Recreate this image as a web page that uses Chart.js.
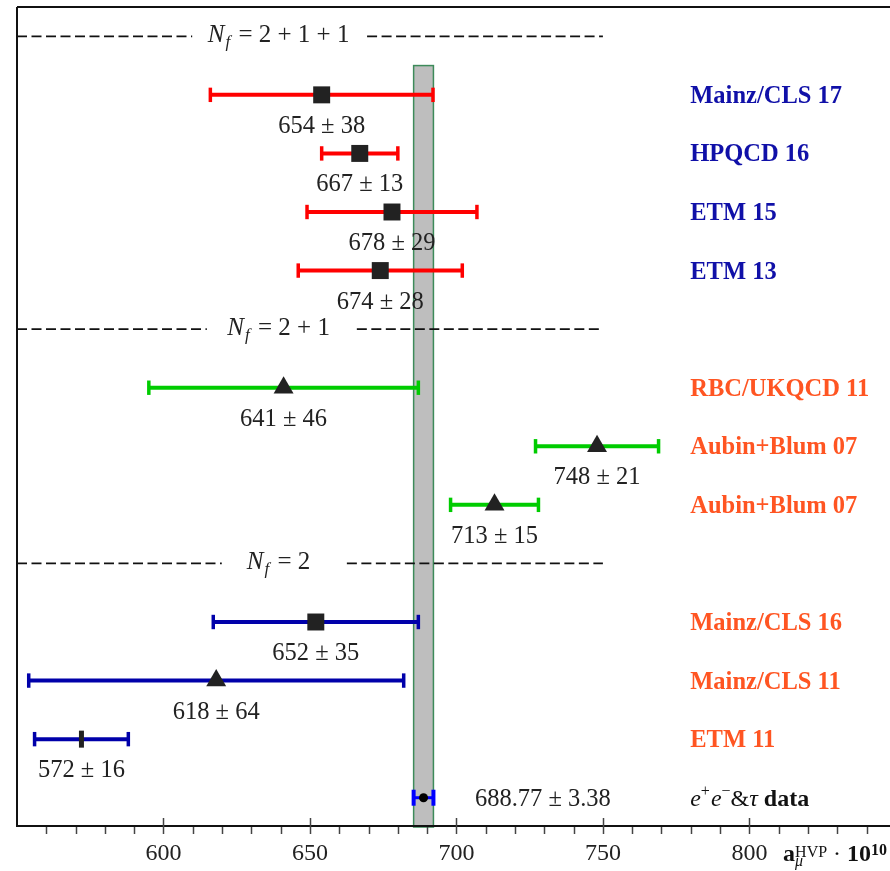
<!DOCTYPE html>
<html>
<head>
<meta charset="utf-8">
<script src="https://cdn.jsdelivr.net/npm/chart.js@4.4.1/dist/chart.umd.min.js"></script>
<style>
  html, body { margin: 0; padding: 0; background: #fff; }
  canvas { display: block; }
</style>
</head>
<body>
<canvas id="hvpChart" width="890" height="871"></canvas>
<script>
// ===== a_mu HVP comparison: lattice results vs dispersive value =====

// Lattice results, top to bottom
const labels = ['Mainz/CLS 17', 'HPQCD 16', 'ETM 15', 'ETM 13', 'RBC/UKQCD 11', 'Aubin+Blum 07', 'Aubin+Blum 07', 'Mainz/CLS 16', 'Mainz/CLS 11', 'ETM 11'];
const centralValues = [654, 667, 678, 674, 641, 748, 713, 652, 618, 572];
const errors = [38, 13, 29, 28, 46, 21, 15, 35, 64, 16];
const rowIndex = [1, 2, 3, 4, 6, 7, 8, 10, 11, 12];
const flavours = ['2+1+1', '2+1+1', '2+1+1', '2+1+1', '2+1', '2+1', '2+1', '2', '2', '2'];
const markers = ['square', 'square', 'square', 'square', 'triangle', 'triangle', 'triangle', 'square', 'triangle', 'bar'];

// Separator rows (N_f groups)
const groupNames = ['2 + 1 + 1', '2 + 1', '2'];
const groupRows = [0, 5, 9];
const groupGaps = [[609.8, 669.5], [614.8, 666], [619.9, 662.6]];

// e+e- & tau data
const dataValue = 688.77;
const dataError = 3.38;
const dataRow = 13;

// Axis
const tickLabels = [600, 650, 700, 750, 800];

// ----- styles -----
const FONT = "'Liberation Serif', 'DejaVu Serif', serif";
const TEXT = '#222222';
const barColours = { '2+1+1': '#ff0000', '2+1': '#00cc00', '2': '#0000aa' };
const nameColours = { '2+1+1': '#1010a8', '2+1': '#ff5522', '2': '#ff5522' };
const markerStyles = {
    square:   { style: 'rect',     radius: 12,   rotation: 0,  border: 0 },
    triangle: { style: 'triangle', radius: 11.5, rotation: 0,  border: 0 },
    bar:      { style: 'line',     radius: 8.5,  rotation: 90, border: 5 },
    dot:      { style: 'circle',   radius: 4.5,  rotation: 0,  border: 0 }
};

// Error bar datasets: a two point line with vertical caps
const errorSets = centralValues.map((c, i) => ({
    data: [{ x: c - errors[i], y: rowIndex[i] }, { x: c + errors[i], y: rowIndex[i] }],
    showLine: true,
    borderColor: barColours[flavours[i]],
    borderWidth: 4,
    pointStyle: 'line',
    pointRotation: 90,
    pointRadius: 7.2,
    pointBorderWidth: 3.5,
    pointBorderColor: barColours[flavours[i]],
    order: 1
}));

errorSets.push({
    data: [{ x: dataValue - dataError, y: dataRow }, { x: dataValue + dataError, y: dataRow }],
    showLine: true,
    borderColor: '#0000ff',
    borderWidth: 3,
    pointStyle: 'line',
    pointRotation: 90,
    pointRadius: 8,
    pointBorderWidth: 4,
    pointBorderColor: '#0000ff',
    order: 1
});

// Central value markers
const markerKinds = markers.concat(['dot']);
const markerSet = {
    data: centralValues.map((c, i) => ({ x: c, y: rowIndex[i] })).concat([{ x: dataValue, y: dataRow }]),
    showLine: false,
    pointStyle: markerKinds.map(k => markerStyles[k].style),
    pointRadius: markerKinds.map(k => markerStyles[k].radius),
    pointRotation: markerKinds.map(k => markerStyles[k].rotation),
    pointBorderWidth: markerKinds.map(k => markerStyles[k].border),
    pointBackgroundColor: markerKinds.map(k => k === 'dot' ? '#000000' : '#222222'),
    pointBorderColor: '#222222',
    order: 0
};

// Draw a run of text pieces with different fonts, returns end x
function drawRuns(ctx, x, y, runs, measureOnly) {
    runs.forEach(r => {
        ctx.font = r.font;
        x += r.dx || 0;
        if (!measureOnly) ctx.fillText(r.text, x, y + (r.dy || 0));
        x += ctx.measureText(r.text).width;
    });
    return x;
}

const overlayPlugin = {
    id: 'overlay',
    beforeDatasetsDraw(chart) {
        const { ctx, scales: { x, y } } = chart;
        ctx.save();

        // dispersive band
        const bl = x.getPixelForValue(dataValue - dataError);
        const br = x.getPixelForValue(dataValue + dataError);
        const bt = y.getPixelForValue(0.5);
        const bb = y.getPixelForValue(13.5);
        ctx.fillStyle = '#bebebe';
        ctx.fillRect(bl, bt, br - bl, bb - bt);
        ctx.strokeStyle = '#3d8b5a';
        ctx.lineWidth = 1.5;
        ctx.strokeRect(bl, bt, br - bl, bb - bt);

        // dashed group separators
        ctx.strokeStyle = '#111';
        ctx.lineWidth = 1.7;
        ctx.setLineDash([10, 4.5]);
        groupRows.forEach((row, i) => {
            const py = y.getPixelForValue(row);
            [[550, groupGaps[i][0]], [groupGaps[i][1], 750]].forEach(seg => {
                ctx.beginPath();
                ctx.moveTo(x.getPixelForValue(seg[0]), py);
                ctx.lineTo(x.getPixelForValue(seg[1]), py);
                ctx.stroke();
            });
        });
        ctx.setLineDash([]);

        // group titles
        ctx.fillStyle = TEXT;
        ctx.textBaseline = 'alphabetic';
        groupRows.forEach((row, i) => {
            const runs = [
                { text: 'N', font: `italic 25px ${FONT}` },
                { text: 'f', font: `italic 17px ${FONT}`, dx: 1, dy: 5 },
                { text: ' = ' + groupNames[i], font: `25px ${FONT}`, dx: 2 }
            ];
            const w = drawRuns(ctx, 0, 0, runs, true);
            const cx = x.getPixelForValue(639.3);
            drawRuns(ctx, cx - w / 2, y.getPixelForValue(row) + 6, runs);
        });
        ctx.restore();
    },
    afterDraw(chart) {
        const { ctx, chartArea: area, scales: { x, y } } = chart;
        ctx.save();

        // frame: top, left and bottom axis line
        ctx.strokeStyle = '#111';
        ctx.lineWidth = 2;
        ctx.beginPath();
        ctx.moveTo(area.left, area.top);
        ctx.lineTo(chart.width, area.top);
        ctx.moveTo(area.left, area.top);
        ctx.lineTo(area.left, area.bottom);
        ctx.moveTo(area.left, area.bottom - 1);
        ctx.lineTo(chart.width, area.bottom - 1);
        ctx.stroke();

        // major and minor ticks
        ctx.strokeStyle = '#444';
        ctx.lineWidth = 1.5;
        for (let v = 560; v <= x.max; v += 10) {
            const px = Math.round(x.getPixelForValue(v)) + 0.5;
            ctx.beginPath();
            if (v % 50 === 0) {
                ctx.moveTo(px, area.bottom - 9);
            } else {
                ctx.moveTo(px, area.bottom);
            }
            ctx.lineTo(px, area.bottom + 7);
            ctx.stroke();
        }

        // value labels under each marker
        ctx.fillStyle = TEXT;
        ctx.font = `24.5px ${FONT}`;
        ctx.textAlign = 'center';
        ctx.textBaseline = 'alphabetic';
        centralValues.forEach((c, i) => {
            ctx.fillText(`${c} ± ${errors[i]}`, x.getPixelForValue(c), y.getPixelForValue(rowIndex[i]) + 38);
        });
        ctx.textAlign = 'left';
        ctx.fillText(`${dataValue} ± ${dataError}`, x.getPixelForValue(706.3), y.getPixelForValue(dataRow) + 8);

        // collaboration names
        const nameX = x.getPixelForValue(779.8);
        ctx.font = `bold 24.5px ${FONT}`;
        labels.forEach((name, i) => {
            ctx.fillStyle = nameColours[flavours[i]];
            ctx.fillText(name, nameX, y.getPixelForValue(rowIndex[i]) + 8);
        });

        // e+e-&tau data
        ctx.fillStyle = '#111';
        const dataY = y.getPixelForValue(dataRow) + 8;
        drawRuns(ctx, nameX, dataY, [
            { text: 'e', font: `italic 24px ${FONT}` },
            { text: '+', font: `16px ${FONT}`, dy: -10 },
            { text: 'e', font: `italic 24px ${FONT}`, dx: 1 },
            { text: '\u2212', font: `16px ${FONT}`, dy: -10 },
            { text: '&', font: `24px ${FONT}` },
            { text: '\u03c4', font: `italic 24px ${FONT}` },
            { text: ' data', font: `bold 24px ${FONT}` }
        ]);

        // axis title
        const titleX = x.getPixelForValue(811.5);
        const titleY = 861;
        const aEnd = drawRuns(ctx, titleX, titleY, [{ text: 'a', font: `bold 24px ${FONT}` }]);
        drawRuns(ctx, aEnd, titleY + 5, [{ text: '\u03bc', font: `italic 16px ${FONT}` }]);
        const supEnd = drawRuns(ctx, aEnd, titleY - 4, [{ text: 'HVP', font: `16px ${FONT}` }]);
        const tenEnd = drawRuns(ctx, supEnd, titleY, [
            { text: ' \u00b7 ', font: `24px ${FONT}` },
            { text: '10', font: `bold 24px ${FONT}` }
        ]);
        drawRuns(ctx, tenEnd, titleY - 6, [{ text: '10', font: `bold 16px ${FONT}` }]);

        ctx.restore();
    }
};

const ctx = document.getElementById('hvpChart').getContext('2d');
new Chart(ctx, {
    type: 'scatter',
    data: { datasets: [markerSet].concat(errorSets) },
    options: {
        responsive: false,
        animation: false,
        events: [],
        clip: false,
        layout: { autoPadding: false, padding: { left: 17, top: 7, right: 0, bottom: 0 } },
        plugins: {
            legend: { display: false },
            tooltip: { enabled: false }
        },
        scales: {
            x: {
                type: 'linear',
                position: 'bottom',
                min: 550,
                max: 848,
                grid: { display: false, drawTicks: false },
                border: { display: false },
                ticks: {
                    stepSize: 10,
                    autoSkip: false,
                    maxRotation: 0,
                    padding: 12,
                    color: TEXT,
                    font: { family: FONT, size: 24 },
                    callback: v => tickLabels.includes(v) ? String(v) : ''
                },
                afterFit: scale => {
                    scale.height = 44;
                    scale.paddingLeft = 0;
                    scale.paddingRight = 0;
                }
            },
            y: {
                type: 'linear',
                min: -0.5,
                max: 13.5,
                reverse: true,
                display: false
            }
        }
    },
    plugins: [overlayPlugin]
});
</script>
</body>
</html>
